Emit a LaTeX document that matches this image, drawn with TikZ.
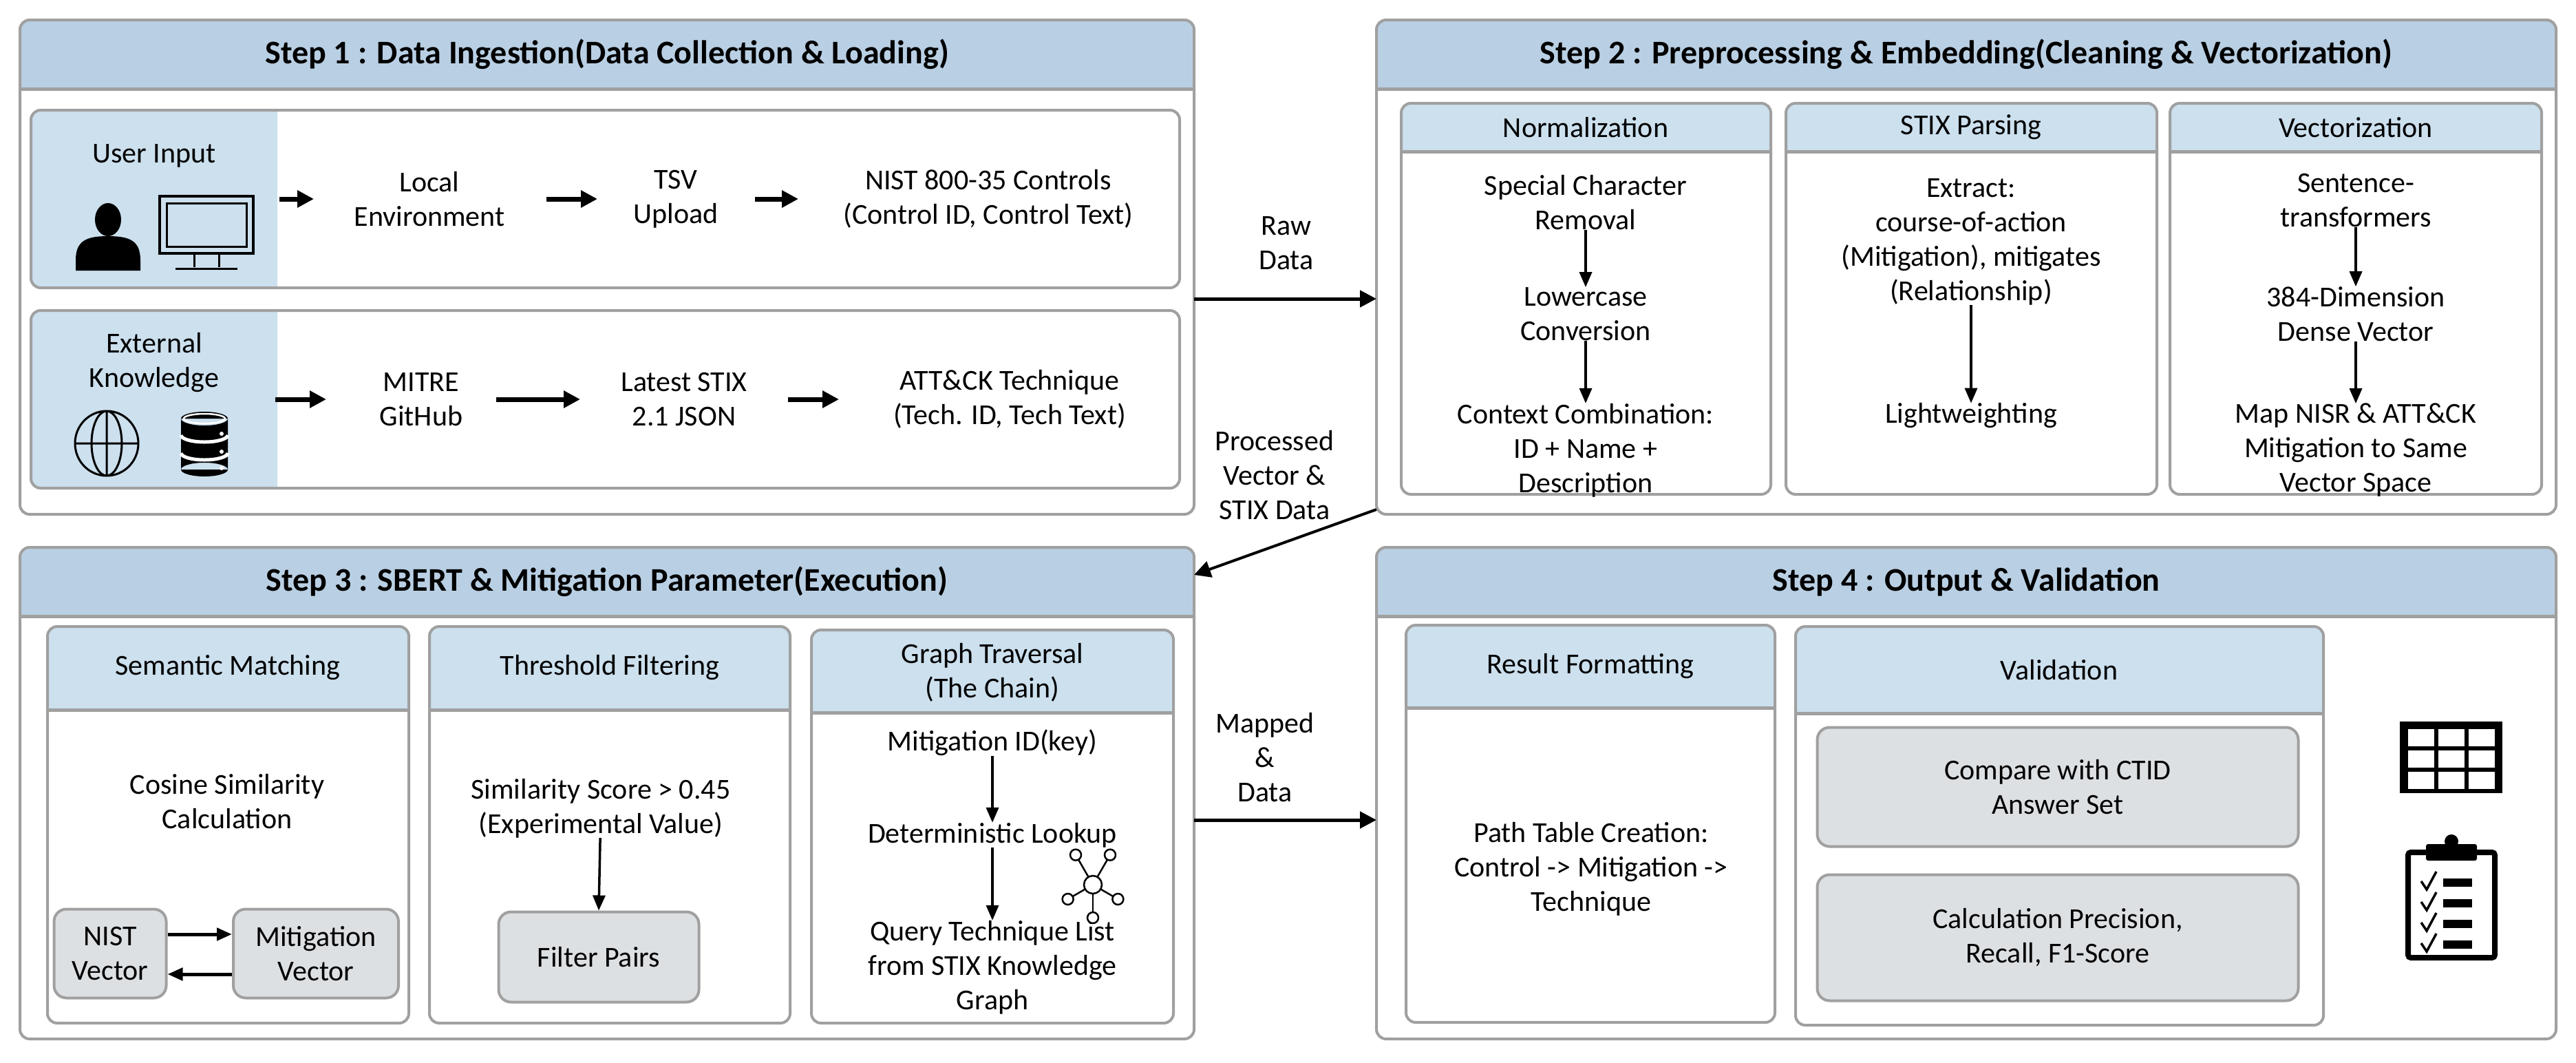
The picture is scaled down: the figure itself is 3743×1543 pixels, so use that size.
\documentclass[tikz,border=0pt]{standalone}
\usepackage{fontspec}
\setmainfont{Carlito}
\usetikzlibrary{arrows.meta,calc}
\definecolor{hdr}{HTML}{B9CFE3}
\definecolor{lhdr}{HTML}{CCE0EE}
\definecolor{gbox}{HTML}{DDE0E3}
\definecolor{bord}{HTML}{A0A0A0}
\newcommand\mypanel[6]{%
 \fill[white,rounded corners=14pt] (#2,#3) rectangle (#4,#5);
 \begin{scope}\clip (#2,#3) rectangle (#4,#6);
 \fill[#1,rounded corners=14pt] (#2,#3) rectangle (#4,#5);\end{scope}
 \draw[bord,line width=5pt] (#2,#6) -- (#4,#6);
 \draw[bord,line width=4pt,rounded corners=14pt] (#2,#3) rectangle (#4,#5);}
\newcommand\myrow[5]{%
 \fill[white,rounded corners=14pt] (#1,#2) rectangle (#4,#5);
 \begin{scope}\clip (#1,#2) rectangle (#3,#5);
 \fill[lhdr,rounded corners=14pt] (#1,#2) rectangle (#4,#5);\end{scope}
 \draw[bord,line width=4pt,rounded corners=14pt] (#1,#2) rectangle (#4,#5);}
\tikzset{x=1pt,y=-1pt,
 t/.style={align=center,font=\fontsize{42}{50}\selectfont,inner sep=0pt},
 tt/.style={align=center,font=\fontsize{48}{56}\selectfont\bfseries,inner sep=0pt},
 ar/.style={-{Triangle[length=24pt,width=24pt]},line width=7pt},
 sar/.style={-{Triangle[length=22pt,width=18pt]},line width=3.5pt},
 gb/.style={t,fill=gbox,draw=bord,line width=4pt,rounded corners=18pt}}
\begin{document}
\begin{tikzpicture}
\useasboundingbox (0,0) rectangle (3743,1543);
% Step 1
\mypanel{hdr}{29}{29}{1735}{747}{129}
\node[tt] (s1) at (882,79) {Step 1 : Data Ingestion(Data Collection \& Loading)};
\myrow{45}{160}{403}{1714}{418}
\myrow{45}{451}{403}{1714}{709}
\node[t] (ui) at (224,226) {User Input};
\node[t] (le) at (624,289) {Local\\Environment};
\node[t] (tsv) at (982,289) {TSV\\Upload};
\node[t] (nist) at (1436,289) {NIST 800-35 Controls\\(Control ID, Control Text)};
\coordinate (a1) at (406,289); \coordinate (a2) at (456,289);
\coordinate (a3) at (794,289); \coordinate (a4) at (868,289);
\coordinate (a5) at (1097,289); \coordinate (a6) at (1160,289);
\draw[ar] (a1) -- (a2); \draw[ar] (a3) -- (a4); \draw[ar] (a5) -- (a6);
\node[t] (ek) at (224,527) {External\\Knowledge};
\node[t] (mg) at (612,580) {MITRE\\GitHub};
\node[t] (ls) at (994,580) {Latest STIX\\2.1 JSON};
\node[t] (att) at (1467,580) {ATT\&CK Technique\\(Tech. ID, Tech Text)};
\coordinate (b1) at (400,580); \coordinate (b2) at (474,580);
\coordinate (b3) at (721,580); \coordinate (b4) at (843,580);
\coordinate (b5) at (1145,580); \coordinate (b6) at (1219,580);
\draw[ar] (b1) -- (b2); \draw[ar] (b3) -- (b4); \draw[ar] (b5) -- (b6);
% person
\fill (157,319) ellipse (19 and 24);
\fill (110,393) -- (110,378) .. controls (110,350) and (125,343) .. (157,343) .. controls (189,343) and (204,350) .. (204,378) -- (204,393) -- cycle;
% monitor
\draw[line width=4pt] (232,285) rectangle (368,368);
\draw[line width=3pt] (242,295) rectangle (358,358);
\draw[line width=3pt] (282,368) -- (282,388) (318,368)--(318,388) (255,390)--(345,390);
% globe
\draw[line width=3pt] (155,644) ellipse (46 and 47) ellipse (22 and 47) (155,597)--(155,691) (109,644)--(201,644);
% database
\fill (297,608) ellipse (34 and 10) (263,608) rectangle (331,682) (297,682) ellipse (34 and 10);
\draw[white,line width=2.5pt] (297,608) ellipse (30 and 7);
\draw[white,line width=5pt] (263,632) arc[start angle=180,end angle=360,x radius=34,y radius=-10];
\draw[white,line width=5pt] (263,658) arc[start angle=180,end angle=360,x radius=34,y radius=-10];
\fill[white] (322,630) circle (3) (322,656) circle (3) (322,680) circle (3);
% Step 2
\mypanel{hdr}{2000}{29}{3714}{747}{129}
\node[tt] (s2) at (2857,79) {Step 2 : Preprocessing \& Embedding(Cleaning \& Vectorization)};
\mypanel{lhdr}{2036}{150}{2573}{718}{220}
\mypanel{lhdr}{2595}{150}{3134}{718}{220}
\mypanel{lhdr}{3153}{150}{3693}{718}{220}
\node[t] at (2304,185) {Normalization};
\node[t] at (2864,185) {STIX Parsing};
\node[t] at (3423,185) {Vectorization};
\node[t] (n1) at (2304,294) {Special Character\\Removal};
\node[t] (n2) at (2304,456) {Lowercase\\Conversion};
\node[t] (n3) at (2304,654) {Context Combination:\\ID + Name +\\Description};
\draw[sar] (n1) -- (n2); \draw[sar] (n2) -- (n3);
\node[t] (p1) at (2864,351) {Extract:\\course-of-action\\(Mitigation), mitigates\\(Relationship)};
\node[t] (p2) at (2864,604) {Lightweighting};
\draw[sar] (p1) -- (p2);
\node[t] (v1) at (3423,291) {Sentence-\\transformers};
\node[t] (v2) at (3423,456) {384-Dimension\\Dense Vector};
\node[t] (v3) at (3423,654) {Map NISR \& ATT\&CK\\Mitigation to Same\\Vector Space};
\draw[sar] (v1) -- (v2); \draw[sar] (v2) -- (v3);
% Step 3
\mypanel{hdr}{29}{795}{1735}{1509}{895}
\node[tt] (s3) at (882,845) {Step 3 : SBERT \& Mitigation Parameter(Execution)};
\mypanel{lhdr}{69}{910}{594}{1486}{1031}
\mypanel{lhdr}{624}{910}{1148}{1486}{1031}
\mypanel{lhdr}{1179}{915}{1705}{1486}{1035}
\node[t] at (331,970) {Semantic Matching};
\node[t] at (886,970) {Threshold Filtering};
\node[t] at (1442,977) {Graph Traversal\\(The Chain)};
\node[t] at (330,1164) {Cosine Similarity\\Calculation};
\node[gb,minimum width=163pt,minimum height=129pt] (nv) at (160,1385) {NIST\\Vector};
\node[gb,minimum width=240pt,minimum height=129pt] (mv) at (459,1385) {Mitigation\\Vector};
\draw[sar,line width=5pt] (nv.east|-0,1357) -- (mv.west|-0,1357);
\draw[sar,line width=5pt] (mv.west|-0,1415) -- (nv.east|-0,1415);
\node[t] (th) at (873,1174) {Similarity Score > 0.45\\(Experimental Value)};
\node[gb,minimum width=291pt,minimum height=131pt] (fp) at (870,1390) {Filter Pairs};
\draw[sar] (th) -- (fp.north);
\node[t] (g1) at (1442,1079) {Mitigation ID(key)};
\node[t] (g2) at (1442,1213) {Deterministic Lookup};
\node[t] (g3) at (1442,1405) {Query Technique List\\from STIX Knowledge\\Graph};
\draw[sar] (g1) -- (g2); \draw[sar] (g2) -- (g3);
% network icon
\begin{scope}[line width=2.5pt]
\coordinate (nc) at (1588,1285);
\foreach \a/\r in {90/48,30/42,150/42,-60/50,-120/50}{\draw (nc) -- ++(\a:\r-9); \draw[fill=white] ($(nc)+(\a:\r)$) circle (8);}
\draw[fill=white] (nc) circle (13);
\end{scope}
% Step 4
\mypanel{hdr}{2000}{795}{3714}{1509}{895}
\node[tt] (s4) at (2857,845) {Step 4 : Output \& Validation};
\mypanel{lhdr}{2043}{908}{2579}{1485}{1028}
\mypanel{lhdr}{2609}{910}{3376}{1489}{1036}
\node[t] at (2311,968) {Result Formatting};
\node[t] at (2992,973) {Validation};
\node[t] at (2312,1262) {Path Table Creation:\\Control -> Mitigation ->\\Technique};
\node[gb,minimum width=699pt,minimum height=173pt] (cmp) at (2990,1143) {Compare with CTID\\Answer Set};
\node[gb,minimum width=699pt,minimum height=183pt] (cal) at (2990,1362) {Calculation Precision,\\Recall, F1-Score};
% table icon
\fill (3487,1048) rectangle (3636,1152);
\foreach \i in {0,1,2}\foreach \j in {0,1,2}{\fill[white] (3499+\i*44,1059+\j*31) rectangle (3537+\i*44,1084+\j*31);}
% clipboard
\draw[line width=8pt,rounded corners=4pt] (3499,1238) rectangle (3625,1391);
\fill[rounded corners=3pt] (3525,1226) rectangle (3599,1250);
\fill (3562,1222) circle (10);
\foreach \k in {0,1,2,3}{
 \draw[line width=3.5pt] (3518,1280+\k*30) -- (3526,1292+\k*30) -- (3540,1266+\k*30);
 \fill (3550,1276+\k*30) rectangle (3592,1288+\k*30);}
% connectors
\coordinate (r1) at (1735,434); \coordinate (r2) at (2000,434);
\draw[ar,line width=5pt] (r1) -- (r2);
\node[t] at (1869,353) {Raw\\Data};
\coordinate (q1) at (2000,740); \coordinate (q2) at (1735,835);
\draw[ar,line width=4pt] (q1) -- (q2);
\node[t] at (1852,690) {Processed\\Vector \&\\STIX Data};
\coordinate (m1) at (1735,1191); \coordinate (m2) at (2000,1191);
\draw[ar,line width=5pt] (m1) -- (m2);
\node[t] at (1838,1100) {Mapped\\\&\\Data};
\end{tikzpicture}
\end{document}
